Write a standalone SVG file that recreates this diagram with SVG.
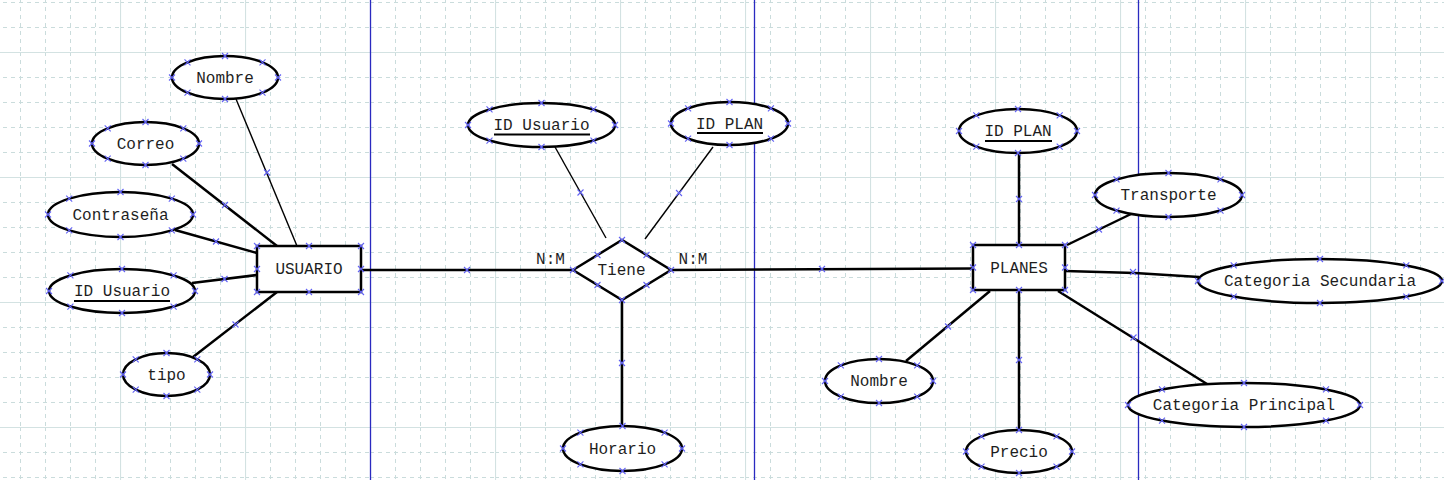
<svg xmlns="http://www.w3.org/2000/svg" xmlns:xlink="http://www.w3.org/1999/xlink" width="1444" height="480" viewBox="0 0 1444 480">
<style>
.n{fill:#fff;stroke:#000;stroke-width:2.5}
.t{font-family:"Liberation Mono","Courier New",monospace;font-size:16px;fill:#1e1e1e;text-anchor:middle}
.c{stroke:#000;stroke-width:2.5;fill:none}
.ct{stroke:#000;stroke-width:1.4;fill:none}
.u{stroke:#000;stroke-width:2}
.pg{stroke:#2a2ac0;stroke-width:1.3}
.m{stroke:#6262f4;stroke-width:1.1;fill:none}
</style>
<defs>
<pattern id="grid" x="-5" y="-73" width="125" height="125" patternUnits="userSpaceOnUse">
<path d="M25.5 0V125M50.5 0V125M75.5 0V125M100.5 0V125M0 25.5H125M0 50.5H125M0 75.5H125M0 100.5H125" stroke="#cadcdc" stroke-width="1" stroke-dasharray="4 4"/>
<path d="M0.5 0V125M0 0.5H125" stroke="#d3e2e2" stroke-width="1.2"/>
</pattern>
<path id="x" class="m" d="M-3 -3L3 3M-3 3L3 -3"/>
</defs>
<rect width="1444" height="480" fill="#fff"/>
<rect width="1444" height="480" fill="url(#grid)"/>
<g id="pages">
<line class="pg" x1="370.5" y1="0" x2="370.5" y2="480"/>
<line class="pg" x1="754.5" y1="0" x2="754.5" y2="480"/>
<line class="pg" x1="1138.5" y1="0" x2="1138.5" y2="480"/>
</g>
<g id="connectors">
<line class="ct" x1="236" y1="99" x2="297" y2="246"/>
<line class="c" x1="172" y1="164" x2="277" y2="246"/>
<line class="c" x1="175" y1="230" x2="257" y2="253"/>
<line class="c" x1="192" y1="283" x2="257" y2="275"/>
<line class="c" x1="193" y1="357" x2="277" y2="292"/>
<line class="c" x1="361" y1="270" x2="573" y2="270"/>
<line class="ct" x1="555" y1="147" x2="606" y2="238"/>
<line class="ct" x1="713" y1="147" x2="645" y2="239"/>
<line class="c" x1="622" y1="300" x2="622" y2="426"/>
<line class="c" x1="671" y1="270" x2="973" y2="268.5"/>
<line class="c" x1="1019" y1="153" x2="1019" y2="245"/>
<line class="c" x1="1131" y1="214" x2="1067" y2="245"/>
<polyline class="c" points="1065,271 1135,273 1199,277"/>
<line class="c" x1="906" y1="361" x2="990" y2="291"/>
<line class="c" x1="1019" y1="290" x2="1019" y2="430"/>
<line class="c" x1="1058" y1="291" x2="1207" y2="384"/>
<text class="t" x="550.5" y="263.5">N:M</text>
<text class="t" x="693" y="263.5">N:M</text>
</g>
<g id="usuario">
<rect class="n" x="257" y="246" width="104" height="46"/>
<text class="t" x="309" y="274">USUARIO</text>
</g>
<g id="tiene">
<polygon class="n" points="573,270 622,240 671,270 622,300"/>
<text class="t" x="621.5" y="275">Tiene</text>
</g>
<g id="planes">
<rect class="n" x="973" y="245" width="92" height="45"/>
<text class="t" x="1019" y="273">PLANES</text>
</g>
<g id="u-nombre"><ellipse class="n" cx="225" cy="77.5" rx="53" ry="21.5"/><text class="t" x="225" y="82.5">Nombre</text></g>
<g id="u-correo"><ellipse class="n" cx="145.5" cy="143.5" rx="53.5" ry="21.5"/><text class="t" x="145.5" y="148.5">Correo</text></g>
<g id="u-contrasena"><ellipse class="n" cx="120.5" cy="214.5" rx="72.5" ry="22.5"/><text class="t" x="120.5" y="219.5">Contraseña</text></g>
<g id="u-id"><ellipse class="n" cx="122" cy="291" rx="73" ry="22"/><text class="t" x="122" y="296">ID Usuario</text><line class="u" x1="74" y1="301" x2="170" y2="301"/></g>
<g id="u-tipo"><ellipse class="n" cx="166.5" cy="374.5" rx="43.5" ry="21.5"/><text class="t" x="166.5" y="379.5">tipo</text></g>
<g id="t-idusuario"><ellipse class="n" cx="541.5" cy="125" rx="73.5" ry="22"/><text class="t" x="541.5" y="130">ID Usuario</text><line class="u" x1="494" y1="134.5" x2="590" y2="134.5"/></g>
<g id="t-idplan"><ellipse class="n" cx="729.5" cy="123.5" rx="58.5" ry="21.5"/><text class="t" x="729.5" y="128.5">ID PLAN</text><line class="u" x1="697" y1="133" x2="763" y2="133"/></g>
<g id="t-horario"><ellipse class="n" cx="622.5" cy="448.5" rx="59.5" ry="22.5"/><text class="t" x="622.5" y="453.5">Horario</text></g>
<g id="p-idplan"><ellipse class="n" cx="1018" cy="131" rx="59" ry="22"/><text class="t" x="1018" y="136">ID PLAN</text><line class="u" x1="985" y1="141" x2="1052" y2="141"/></g>
<g id="p-transporte"><ellipse class="n" cx="1168.5" cy="195" rx="73.5" ry="22"/><text class="t" x="1168.5" y="200">Transporte</text></g>
<g id="p-catsec"><ellipse class="n" cx="1320" cy="281" rx="122" ry="22"/><text class="t" x="1320" y="286">Categoria Secundaria</text></g>
<g id="p-nombre"><ellipse class="n" cx="879" cy="381" rx="54" ry="22"/><text class="t" x="879" y="386">Nombre</text></g>
<g id="p-precio"><ellipse class="n" cx="1019" cy="451.5" rx="53" ry="21.5"/><text class="t" x="1019" y="456.5">Precio</text></g>
<g id="p-catprin"><ellipse class="n" cx="1244" cy="405" rx="116" ry="22"/><text class="t" x="1244" y="410">Categoria Principal</text></g>
<g id="handles">
<use href="#x" x="278" y="77.5"/><use href="#x" x="172" y="77.5"/><use href="#x" x="225" y="56"/><use href="#x" x="225" y="99"/><use href="#x" x="262.5" y="62.3"/><use href="#x" x="187.5" y="62.3"/><use href="#x" x="262.5" y="92.7"/><use href="#x" x="187.5" y="92.7"/>
<use href="#x" x="199" y="143.5"/><use href="#x" x="92" y="143.5"/><use href="#x" x="145.5" y="122"/><use href="#x" x="145.5" y="165"/><use href="#x" x="183.3" y="128.3"/><use href="#x" x="107.7" y="128.3"/><use href="#x" x="183.3" y="158.7"/><use href="#x" x="107.7" y="158.7"/>
<use href="#x" x="193" y="214.5"/><use href="#x" x="48" y="214.5"/><use href="#x" x="120.5" y="192"/><use href="#x" x="120.5" y="237"/><use href="#x" x="171.8" y="198.6"/><use href="#x" x="69.2" y="198.6"/><use href="#x" x="171.8" y="230.4"/><use href="#x" x="69.2" y="230.4"/>
<use href="#x" x="195" y="291"/><use href="#x" x="49" y="291"/><use href="#x" x="122" y="269"/><use href="#x" x="122" y="313"/><use href="#x" x="173.6" y="275.4"/><use href="#x" x="70.4" y="275.4"/><use href="#x" x="173.6" y="306.6"/><use href="#x" x="70.4" y="306.6"/>
<use href="#x" x="210" y="374.5"/><use href="#x" x="123" y="374.5"/><use href="#x" x="166.5" y="353"/><use href="#x" x="166.5" y="396"/><use href="#x" x="197.3" y="359.3"/><use href="#x" x="135.7" y="359.3"/><use href="#x" x="197.3" y="389.7"/><use href="#x" x="135.7" y="389.7"/>
<use href="#x" x="615" y="125"/><use href="#x" x="468" y="125"/><use href="#x" x="541.5" y="103"/><use href="#x" x="541.5" y="147"/><use href="#x" x="593.5" y="109.4"/><use href="#x" x="489.5" y="109.4"/><use href="#x" x="593.5" y="140.6"/><use href="#x" x="489.5" y="140.6"/>
<use href="#x" x="788" y="123.5"/><use href="#x" x="671" y="123.5"/><use href="#x" x="729.5" y="102"/><use href="#x" x="729.5" y="145"/><use href="#x" x="770.9" y="108.3"/><use href="#x" x="688.1" y="108.3"/><use href="#x" x="770.9" y="138.7"/><use href="#x" x="688.1" y="138.7"/>
<use href="#x" x="682" y="448.5"/><use href="#x" x="563" y="448.5"/><use href="#x" x="622.5" y="426"/><use href="#x" x="622.5" y="471"/><use href="#x" x="664.6" y="432.6"/><use href="#x" x="580.4" y="432.6"/><use href="#x" x="664.6" y="464.4"/><use href="#x" x="580.4" y="464.4"/>
<use href="#x" x="1077" y="131"/><use href="#x" x="959" y="131"/><use href="#x" x="1018" y="109"/><use href="#x" x="1018" y="153"/><use href="#x" x="1059.7" y="115.4"/><use href="#x" x="976.3" y="115.4"/><use href="#x" x="1059.7" y="146.6"/><use href="#x" x="976.3" y="146.6"/>
<use href="#x" x="1242" y="195"/><use href="#x" x="1095" y="195"/><use href="#x" x="1168.5" y="173"/><use href="#x" x="1168.5" y="217"/><use href="#x" x="1220.5" y="179.4"/><use href="#x" x="1116.5" y="179.4"/><use href="#x" x="1220.5" y="210.6"/><use href="#x" x="1116.5" y="210.6"/>
<use href="#x" x="1442" y="281"/><use href="#x" x="1198" y="281"/><use href="#x" x="1320" y="259"/><use href="#x" x="1320" y="303"/><use href="#x" x="1406.3" y="265.4"/><use href="#x" x="1233.7" y="265.4"/><use href="#x" x="1406.3" y="296.6"/><use href="#x" x="1233.7" y="296.6"/>
<use href="#x" x="933" y="381"/><use href="#x" x="825" y="381"/><use href="#x" x="879" y="359"/><use href="#x" x="879" y="403"/><use href="#x" x="917.2" y="365.4"/><use href="#x" x="840.8" y="365.4"/><use href="#x" x="917.2" y="396.6"/><use href="#x" x="840.8" y="396.6"/>
<use href="#x" x="1072" y="451.5"/><use href="#x" x="966" y="451.5"/><use href="#x" x="1019" y="430"/><use href="#x" x="1019" y="473"/><use href="#x" x="1056.5" y="436.3"/><use href="#x" x="981.5" y="436.3"/><use href="#x" x="1056.5" y="466.7"/><use href="#x" x="981.5" y="466.7"/>
<use href="#x" x="1360" y="405"/><use href="#x" x="1128" y="405"/><use href="#x" x="1244" y="383"/><use href="#x" x="1244" y="427"/><use href="#x" x="1326" y="389.4"/><use href="#x" x="1162" y="389.4"/><use href="#x" x="1326" y="420.6"/><use href="#x" x="1162" y="420.6"/>
<use href="#x" x="257" y="246"/><use href="#x" x="309" y="246"/><use href="#x" x="361" y="246"/><use href="#x" x="257" y="269"/><use href="#x" x="361" y="269"/><use href="#x" x="257" y="292"/><use href="#x" x="309" y="292"/><use href="#x" x="361" y="292"/>
<use href="#x" x="973" y="245"/><use href="#x" x="1019" y="245"/><use href="#x" x="1065" y="245"/><use href="#x" x="973" y="267.5"/><use href="#x" x="1065" y="267.5"/><use href="#x" x="973" y="290"/><use href="#x" x="1019" y="290"/><use href="#x" x="1065" y="290"/>
<use href="#x" x="573" y="270"/><use href="#x" x="622" y="240"/><use href="#x" x="671" y="270"/><use href="#x" x="622" y="300"/><use href="#x" x="597.5" y="255"/><use href="#x" x="646.5" y="255"/><use href="#x" x="597.5" y="285"/><use href="#x" x="646.5" y="285"/>
<use href="#x" x="267" y="172.5"/><use href="#x" x="225" y="205"/><use href="#x" x="216" y="241.5"/><use href="#x" x="224.5" y="279"/><use href="#x" x="235.5" y="324.5"/><use href="#x" x="467" y="270"/><use href="#x" x="580.5" y="192.5"/><use href="#x" x="679" y="193"/><use href="#x" x="622" y="363"/><use href="#x" x="822" y="269"/><use href="#x" x="1019" y="199"/><use href="#x" x="1099" y="229.5"/><use href="#x" x="1133" y="272"/><use href="#x" x="948" y="326.5"/><use href="#x" x="1019" y="360"/><use href="#x" x="1133.5" y="337.5"/>
</g>
</svg>
